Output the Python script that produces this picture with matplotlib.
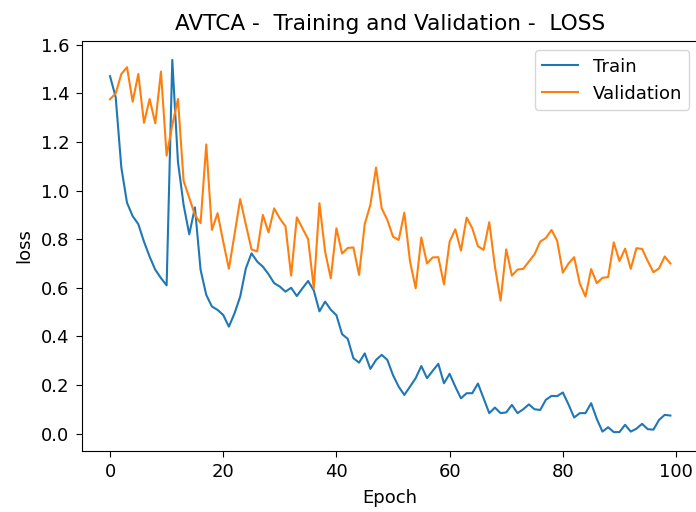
import matplotlib
matplotlib.use("Agg")
import matplotlib.pyplot as plt
import numpy as np

epochs = list(range(100))

train_loss = [1.471, 1.385, 1.095, 0.95, 0.895, 0.862, 0.79, 0.728, 0.674, 0.64,
              0.61, 1.538, 1.119, 0.941, 0.82, 0.931, 0.674, 0.571, 0.523, 0.509,
              0.488, 0.44, 0.495, 0.564, 0.68, 0.742, 0.708, 0.687, 0.656, 0.619,
              0.605, 0.584, 0.60, 0.566, 0.598, 0.628, 0.589, 0.503, 0.543, 0.51,
              0.487, 0.409, 0.39, 0.31, 0.292, 0.33, 0.266, 0.303, 0.324, 0.303,
              0.24, 0.193, 0.159, 0.193, 0.228, 0.278, 0.228, 0.258, 0.287, 0.207,
              0.246, 0.193, 0.145, 0.166, 0.166, 0.206, 0.145, 0.084, 0.107, 0.084,
              0.087, 0.118, 0.084, 0.10, 0.12, 0.10, 0.097, 0.139, 0.155, 0.154,
              0.169, 0.12, 0.066, 0.084, 0.084, 0.125, 0.06, 0.008, 0.026, 0.006,
              0.006, 0.036, 0.008, 0.02, 0.04, 0.018, 0.016, 0.056, 0.077, 0.074]

val_loss = [1.376, 1.40, 1.48, 1.508, 1.366, 1.48, 1.279, 1.377, 1.277, 1.49,
            1.144, 1.27, 1.377, 1.04, 0.97, 0.90, 0.866, 1.19, 0.838, 0.907,
            0.79, 0.678, 0.82, 0.965, 0.86, 0.758, 0.75, 0.90, 0.828, 0.927,
            0.885, 0.853, 0.65, 0.89, 0.845, 0.80, 0.598, 0.948, 0.749, 0.639,
            0.845, 0.741, 0.764, 0.766, 0.653, 0.862, 0.942, 1.095, 0.927, 0.879,
            0.81, 0.797, 0.909, 0.708, 0.598, 0.807, 0.70, 0.725, 0.726, 0.614,
            0.79, 0.841, 0.753, 0.889, 0.845, 0.771, 0.756, 0.87, 0.688, 0.547,
            0.758, 0.65, 0.675, 0.678, 0.708, 0.738, 0.79, 0.805, 0.838, 0.793,
            0.662, 0.70, 0.726, 0.617, 0.564, 0.677, 0.619, 0.641, 0.644, 0.787,
            0.71, 0.761, 0.678, 0.763, 0.76, 0.71, 0.664, 0.68, 0.729, 0.70]

s = 1.3
plt.rcParams.update({
    "font.size": 10 * s,
    "axes.titlesize": 12 * s,
    "axes.labelsize": 10 * s,
    "xtick.labelsize": 10 * s,
    "ytick.labelsize": 10 * s,
    "legend.fontsize": 10 * s,
    "xtick.major.size": 3.5 * s,
    "ytick.major.size": 3.5 * s,
    "xtick.major.pad": 3.5 * s,
    "ytick.major.pad": 3.5 * s,
    "axes.labelpad": 4 * s,
    "axes.titlepad": 6 * s,
})

fig = plt.figure(figsize=(6.96, 5.12), dpi=100)
ax = fig.add_axes([82 / 696, 61.3 / 512, 616.4 / 696, 409.4 / 512])
ax.plot(epochs, train_loss, color="#1f77b4", label="Train")
ax.plot(epochs, val_loss, color="#ff7f0e", label="Validation")
ax.set_title("AVTCA -  Training and Validation -  LOSS")
ax.set_xlabel("Epoch")
ax.set_ylabel("loss")
ax.legend(loc="upper right")
fig.savefig("out.png", dpi=100)
